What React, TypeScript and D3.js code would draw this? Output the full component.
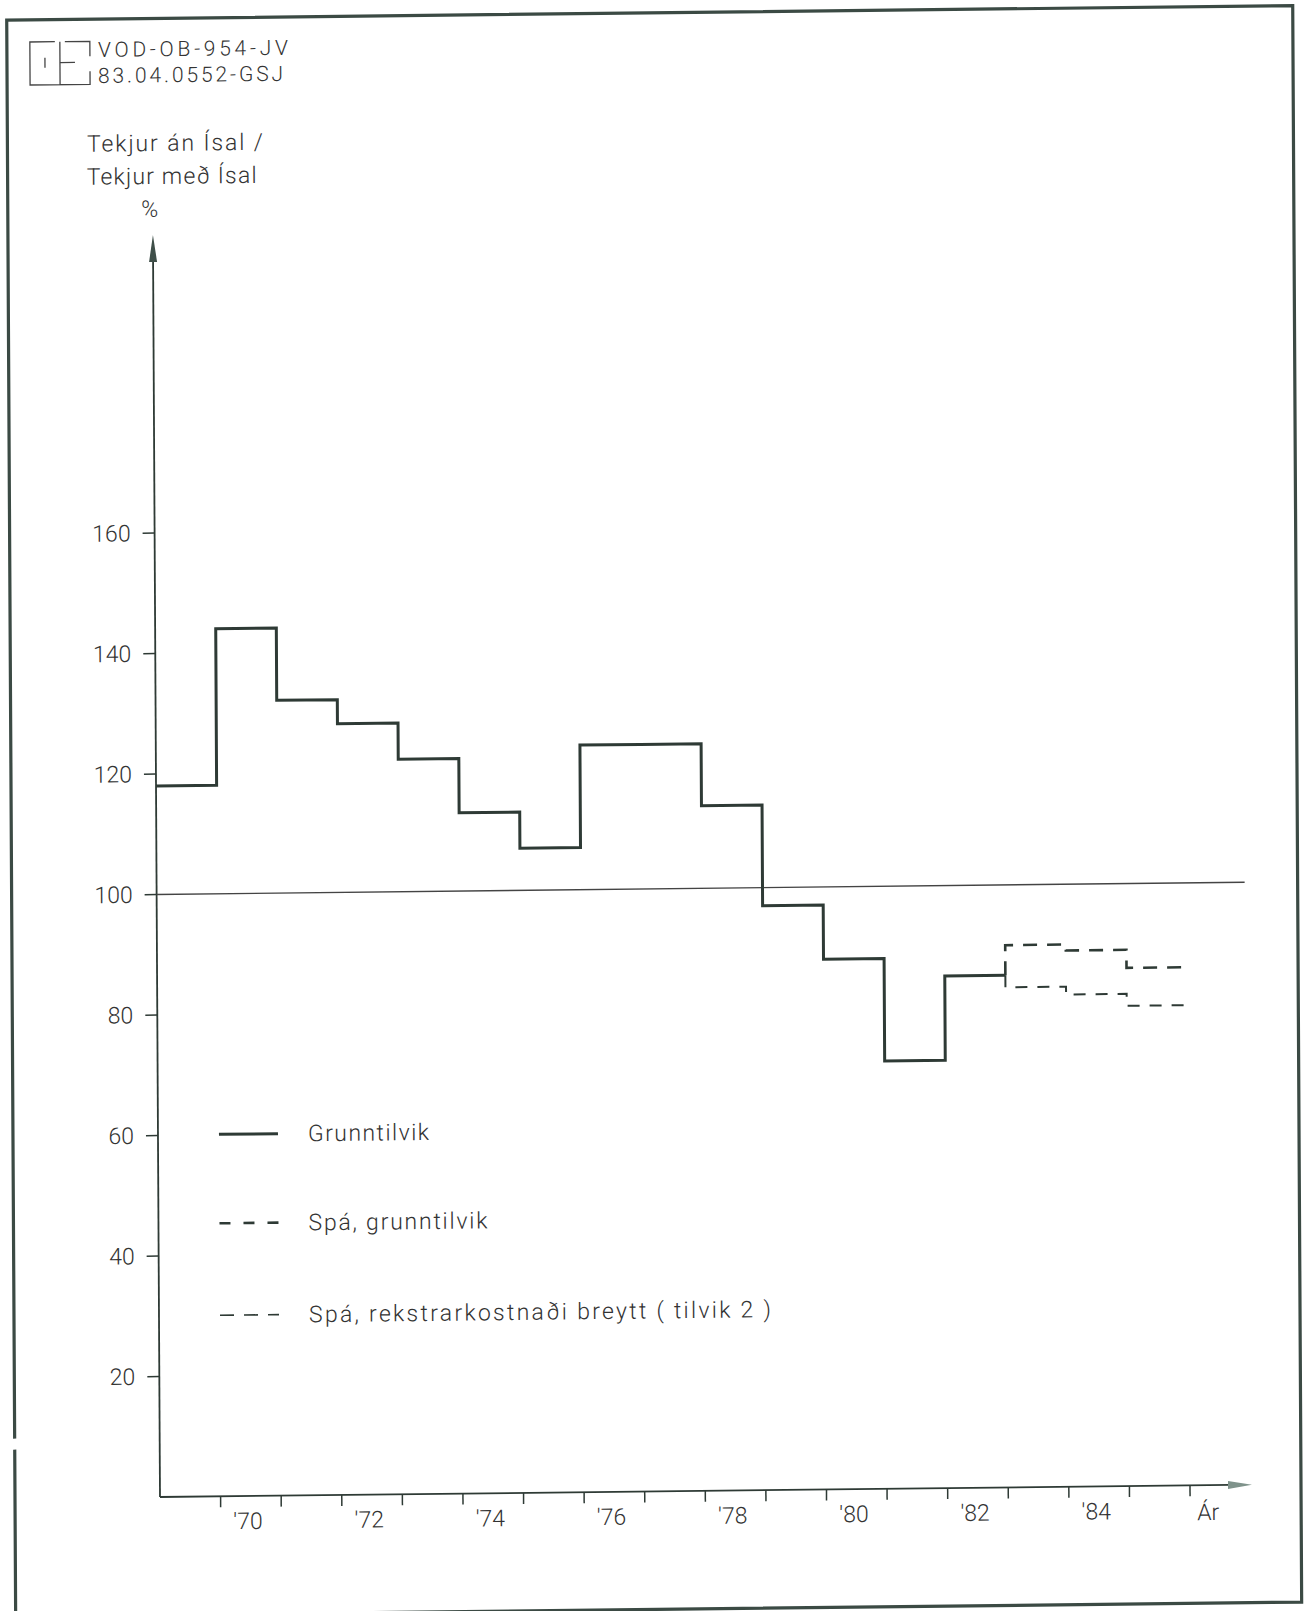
import { useEffect, useRef } from 'react';
import * as d3 from 'd3';

// Tekjur án Ísal / Tekjur með Ísal, % - one value per year
const years = [1969, 1970, 1971, 1972, 1973, 1974, 1975, 1976, 1977, 1978, 1979, 1980, 1981, 1982];
const grunntilvik = [118, 144, 132, 128, 122, 113, 107, 124, 124, 113.7, 97, 88, 71, 85];

const forecastYears = [1983, 1984, 1985];
const spaGrunntilvik = [90, 89, 86];
const spaTilvik2 = [83, 81.7, 79.7];

const yTicks = [20, 40, 60, 80, 100, 120, 140, 160];
const tickYears = [1970, 1971, 1972, 1973, 1974, 1975, 1976, 1977, 1978, 1979, 1980, 1981, 1982, 1983, 1984, 1985, 1986];
const labelYears = [1970, 1972, 1974, 1976, 1978, 1980, 1982, 1984];
const yearLabels = ["'70", "'72", "'74", "'76", "'78", "'80", "'82", "'84"];

const legendLabels = ['Grunntilvik', 'Spá, grunntilvik', 'Spá, rekstrarkostnaði breytt ( tilvik 2 )'];
const legendWidths = [121, 179, 462];

const W = 1309;
const H = 1611;
const INK = '#2e3a35';
const TEXT = '#333';
const FONT = "Roboto, 'DejaVu Sans', sans-serif";

const App = () => {
  const ref = useRef<SVGSVGElement>(null);

  useEffect(() => {
    const svg = d3.select(ref.current);
    svg.selectAll('*').remove();

    svg.append('rect').attr('width', W).attr('height', H).attr('fill', '#fff');

    // the scan is slightly skewed, so draw everything in a sheared group
    const g = svg
      .append('g')
      .attr('transform', `matrix(1,-0.0113,0.0056,1,${-0.0056 * 1497},${0.0113 * 160})`);

    const x = d3.scaleLinear().domain([1969, 1986]).range([160, 1190]);
    const y = d3.scaleLinear().domain([0, 160]).range([1497, 533]);

    // frame
    const frame = d3.path();
    frame.moveTo(15, 1437);
    frame.lineTo(15, 18.5);
    frame.lineTo(1301, 18.5);
    frame.lineTo(1301, 1615);
    frame.lineTo(15, 1615);
    frame.lineTo(15, 1448);
    g.append('path')
      .attr('d', frame.toString())
      .attr('fill', 'none')
      .attr('stroke', '#3b4a44')
      .attr('stroke-width', 3.2);

    // logo + drawing number
    const logo = g.append('g').attr('transform', 'translate(8,-1.4)')
      .attr('fill', 'none').attr('stroke', '#444').attr('stroke-width', 1.3);
    logo.append('path').attr('d', 'M55,42 H30 V85 H90 V72 M65,42 H90 V57 M60,42 V85 M60,63 H75 M45,58 V68');
    g.append('text').attr('x', 106).attr('y', 56.3).attr('textLength', 190).attr('lengthAdjust', 'spacing')
      .attr('font-size', 21).attr('font-family', FONT).attr('font-weight', 300).attr('fill', TEXT)
      .text('VOD-OB-954-JV');
    g.append('text').attr('x', 106).attr('y', 82.3).attr('textLength', 185).attr('lengthAdjust', 'spacing')
      .attr('font-size', 21).attr('font-family', FONT).attr('font-weight', 300).attr('fill', TEXT)
      .text('83.04.0552-GSJ');

    // axis title
    const title = g.append('g').attr('font-family', FONT).attr('font-weight', 300)
      .attr('font-size', 23).attr('fill', TEXT);
    title.append('text').attr('x', 94.5).attr('y', 151).attr('textLength', 176).attr('lengthAdjust', 'spacing')
      .text('Tekjur án Ísal /');
    title.append('text').attr('x', 94).attr('y', 184).attr('textLength', 170).attr('lengthAdjust', 'spacing')
      .text('Tekjur með Ísal');
    title.append('text').attr('x', 157).attr('y', 217).attr('text-anchor', 'middle').text('%');

    // y axis
    g.append('line').attr('x1', x(1969)).attr('x2', x(1969)).attr('y1', y(0)).attr('y2', 258)
      .attr('stroke', INK).attr('stroke-width', 1.8);
    g.append('path').attr('d', `M${x(1969) - 4},262 L${x(1969)},235 L${x(1969) + 4},262 Z`)
      .attr('fill', '#3f4f49');

    const yAxis = g.append('g');
    yAxis.selectAll('line').data(yTicks).join('line')
      .attr('x1', x(1969) - 12).attr('x2', x(1969))
      .attr('y1', (d) => y(d)).attr('y2', (d) => y(d))
      .attr('stroke', INK).attr('stroke-width', 1.5);
    yAxis.selectAll('text').data(yTicks).join('text')
      .attr('x', 136).attr('y', (d) => y(d)).attr('dy', '0.35em')
      .attr('text-anchor', 'end').attr('font-size', 23).attr('font-family', FONT)
      .attr('font-weight', 300).attr('fill', TEXT)
      .text((d) => String(d));

    // x axis
    g.append('line').attr('x1', x(1969)).attr('x2', 1230).attr('y1', y(0)).attr('y2', y(0))
      .attr('stroke', INK).attr('stroke-width', 1.8);
    g.append('path').attr('d', `M1228,${y(0) - 4} L1252,${y(0)} L1228,${y(0) + 4} Z`)
      .attr('fill', '#7f938b');

    const xAxis = g.append('g');
    xAxis.selectAll('line').data(tickYears).join('line')
      .attr('x1', (d) => x(d)).attr('x2', (d) => x(d))
      .attr('y1', y(0)).attr('y2', y(0) + 11)
      .attr('stroke', INK).attr('stroke-width', 1.5);
    xAxis.selectAll('text').data(labelYears).join('text')
      .attr('x', (d) => x(d + 0.5) - 3).attr('y', 1530)
      .attr('text-anchor', 'middle').attr('font-size', 23).attr('font-family', FONT)
      .attr('font-weight', 300).attr('fill', TEXT)
      .text((_, i) => yearLabels[i]);
    g.append('text').attr('x', x(1986) + 7).attr('y', 1532)
      .attr('font-size', 23).attr('font-family', FONT).attr('font-weight', 300).attr('fill', TEXT)
      .text('Ár');

    // 100 % reference line
    g.append('line').attr('x1', x(1969)).attr('x2', 1248).attr('y1', y(100)).attr('y2', y(100))
      .attr('stroke', '#444').attr('stroke-width', 1.4);

    const step = d3.line<[number, number]>()
      .x((d) => x(d[0]))
      .y((d) => y(d[1]))
      .curve(d3.curveStepAfter);

    const last = grunntilvik[grunntilvik.length - 1];
    const basePts: [number, number][] = years.map((yr, i) => [yr, grunntilvik[i]]);
    basePts.push([forecastYears[0], last]);

    const fc = (vals: number[]): [number, number][] => {
      const pts: [number, number][] = [[forecastYears[0], last]];
      forecastYears.forEach((yr, i) => pts.push([yr, vals[i]]));
      pts.push([forecastYears[forecastYears.length - 1] + 1, vals[vals.length - 1]]);
      return pts;
    };

    g.append('path').attr('d', step(basePts))
      .attr('fill', 'none').attr('stroke', INK).attr('stroke-width', 3);
    g.append('path').attr('d', step(fc(spaGrunntilvik)))
      .attr('fill', 'none').attr('stroke', INK).attr('stroke-width', 2.6)
      .attr('stroke-dasharray', '14 10');
    g.append('path').attr('d', step(fc(spaTilvik2)))
      .attr('fill', 'none').attr('stroke', INK).attr('stroke-width', 2)
      .attr('stroke-dasharray', '12 10');

    // legend
    const legendY = [1135, 1224, 1316];
    const legendDash = [null, '11 13', '14 10'];
    const legendStroke = [3, 2.6, 1.6];
    const legend = g.append('g');
    legendLabels.forEach((label, i) => {
      legend.append('line')
        .attr('x1', 221).attr('x2', 280).attr('y1', legendY[i]).attr('y2', legendY[i])
        .attr('stroke', INK).attr('stroke-width', legendStroke[i])
        .attr('stroke-dasharray', legendDash[i]);
      legend.append('text')
        .attr('x', 310).attr('y', legendY[i] + 8)
        .attr('textLength', legendWidths[i]).attr('lengthAdjust', 'spacing')
        .attr('font-size', 23).attr('font-family', FONT).attr('font-weight', 300).attr('fill', TEXT)
        .text(label);
    });
  }, []);

  return (
    <svg
      ref={ref}
      width={W}
      height={H}
      style={{ position: 'absolute', left: 0, top: 0, display: 'block' }}
    />
  );
};

export default App;
